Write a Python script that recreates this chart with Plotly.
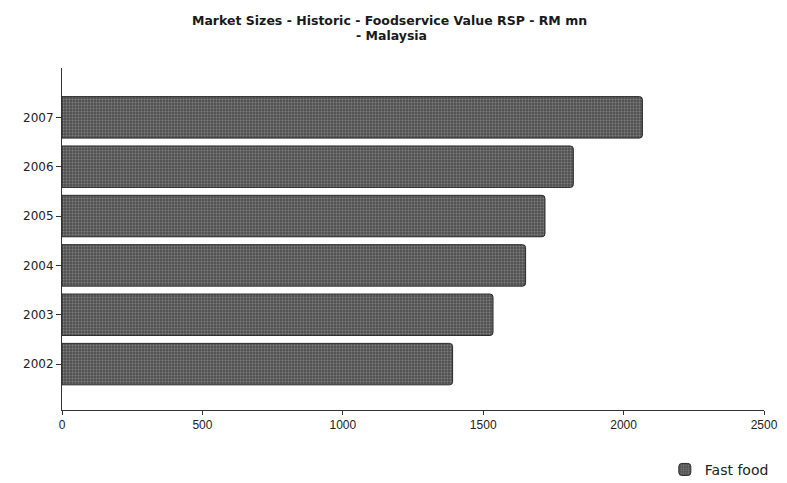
import plotly.graph_objects as go

# Fast food foodservice value, RSP, RM mn
years = ["2002", "2003", "2004", "2005", "2006", "2007"]
fast_food = [1391, 1535, 1651, 1720, 1821, 2067]
x_ticks = [0, 500, 1000, 1500, 2000, 2500]
title_lines = ["Market Sizes - Historic - Foodservice Value RSP - RM mn", "- Malaysia"]

fig = go.Figure()
fig.add_trace(go.Bar(
    y=years,
    x=fast_food,
    orientation="h",
    name="Fast food",
    marker=dict(
        color="#505050",
        line=dict(color="#2a2a2a", width=1),
        pattern=dict(shape=".", fgcolor="#b0b0b0", bgcolor="#505050",
                     size=3, solidity=0.35),
    ),
))

title_font = dict(family="DejaVu Sans", size=12.5, color="#1a1a1a", weight="bold")

fig.update_layout(
    width=787, height=483,
    paper_bgcolor="white", plot_bgcolor="white",
    margin=dict(l=62, r=23, t=68, b=73, autoexpand=False),
    bargap=0.16,
    barcornerradius=3,
    xaxis=dict(
        range=[0, 2500], tickvals=x_ticks,
        showgrid=False, zeroline=False,
        showline=True, linecolor="#333", linewidth=1,
        ticks="outside", ticklen=4, tickcolor="#333",
        tickfont=dict(family="Liberation Sans", size=12, color="#222"),
    ),
    yaxis=dict(
        type="category", range=[-0.93, 6.0],
        showgrid=False, zeroline=False,
        showline=True, linecolor="#333", linewidth=1,
        ticks="outside", ticklen=5, tickcolor="#333",
        tickfont=dict(family="DejaVu Sans", size=12, color="#222"),
    ),
    showlegend=True,
    legend=dict(
        x=1.014, xanchor="right", y=-0.175, yanchor="middle",
        orientation="h",
        font=dict(family="DejaVu Sans", size=14, color="#222"),
        bgcolor="rgba(0,0,0,0)",
    ),
    annotations=[
        dict(text=title_lines[0], xref="paper", yref="paper", x=0.466, y=1.139,
             xanchor="center", yanchor="middle", showarrow=False, font=title_font),
        dict(text=title_lines[1], xref="paper", yref="paper", x=0.469, y=1.096,
             xanchor="center", yanchor="middle", showarrow=False, font=title_font),
    ],
)

fig.write_html("out.html")
